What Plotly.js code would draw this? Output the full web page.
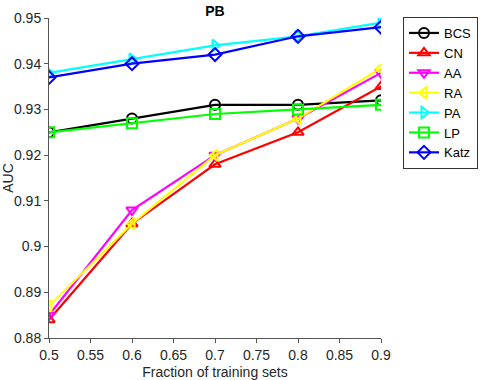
<!DOCTYPE html>
<html>
<head>
<meta charset="utf-8">
<script src="https://cdn.plot.ly/plotly-3.0.1.min.js"></script>
<style>
  html, body { margin: 0; padding: 0; background: #fff; }
  #chart { width: 480px; height: 380px; }
</style>
</head>
<body>
<div id="chart"></div>
<script>
// fraction of training set on x, AUC on y
const fractions = [0.5, 0.6, 0.7, 0.8, 0.9];
const bcs  = [0.925, 0.928, 0.931, 0.931, 0.932];
const cn   = [0.884, 0.905, 0.918, 0.925, 0.935];
const aa   = [0.885, 0.908, 0.920, 0.928, 0.938];
const ra   = [0.887, 0.905, 0.920, 0.928, 0.939];
const pa   = [0.938, 0.941, 0.944, 0.946, 0.949];
const lp   = [0.925, 0.927, 0.929, 0.930, 0.931];
const katz = [0.937, 0.940, 0.942, 0.946, 0.948];

const xTicks = [0.5, 0.55, 0.6, 0.65, 0.7, 0.75, 0.8, 0.85, 0.9];
const xTickText = ['0.5', '0.55', '0.6', '0.65', '0.7', '0.75', '0.8', '0.85', '0.9'];
const yTicks = [0.88, 0.89, 0.9, 0.91, 0.92, 0.93, 0.94, 0.95];
const yTickText = ['0.88', '0.89', '0.9', '0.91', '0.92', '0.93', '0.94', '0.95'];

const SERIES = [
  { name: 'BCS',  y: bcs,  color: '#000000', symbol: 'circle-open' },
  { name: 'CN',   y: cn,   color: '#FF0000', symbol: 'triangle-up-open' },
  { name: 'AA',   y: aa,   color: '#FF00FF', symbol: 'triangle-down-open' },
  { name: 'RA',   y: ra,   color: '#FFFF00', symbol: 'triangle-left-open' },
  { name: 'PA',   y: pa,   color: '#00FFFF', symbol: 'triangle-right-open' },
  { name: 'LP',   y: lp,   color: '#00FF00', symbol: 'square-open' },
  { name: 'Katz', y: katz, color: '#0000FF', symbol: 'diamond-open' }
];

const traces = SERIES.map(s => ({
  type: 'scatter', mode: 'lines+markers', name: s.name,
  x: fractions, y: s.y,
  line: { color: s.color, width: 2.2 },
  marker: { symbol: s.symbol, size: 10, color: s.color, line: { color: s.color, width: 2 } }
}));

const AXIS_GREY = '#262626';
const layout = {
  width: 480, height: 380,
  paper_bgcolor: '#fff', plot_bgcolor: '#fff',
  margin: { l: 49, r: 99, t: 18, b: 42, autoexpand: false },
  font: { family: 'Liberation Sans, Arial, sans-serif', size: 13, color: AXIS_GREY },
  title: { text: '<b>PB</b>', x: 0.5, xref: 'paper', y: 0.985, yanchor: 'top',
           font: { size: 14, color: '#000' } },
  xaxis: {
    range: [0.5, 0.9], tickvals: xTicks, ticktext: xTickText,
    ticks: 'outside', ticklen: 4, tickcolor: '#555', tickwidth: 1,
    showline: true, linecolor: '#555', linewidth: 1, showgrid: false, zeroline: false,
    tickfont: { size: 14 },
    title: { text: 'Fraction of training sets', standoff: 6, font: { size: 14, color: AXIS_GREY } }
  },
  yaxis: {
    range: [0.88, 0.95], tickvals: yTicks, ticktext: yTickText,
    ticks: 'outside', ticklen: 4, tickcolor: '#555', tickwidth: 1,
    showline: true, linecolor: '#555', linewidth: 1, showgrid: false, zeroline: false,
    tickfont: { size: 14 },
    title: { text: 'AUC', standoff: 4, font: { size: 14, color: AXIS_GREY } }
  },
  showlegend: true,
  legend: {
    xref: 'container', yref: 'container',
    x: 403 / 480, xanchor: 'left', y: 1 - 17 / 380, yanchor: 'top',
    bgcolor: '#fff', bordercolor: '#333', borderwidth: 1,
    font: { size: 13, color: '#000' }, itemwidth: 30, tracegroupgap: 0
  }
};

Plotly.newPlot('chart', traces, layout, { displayModeBar: false, staticPlot: true });
</script>
</body>
</html>
